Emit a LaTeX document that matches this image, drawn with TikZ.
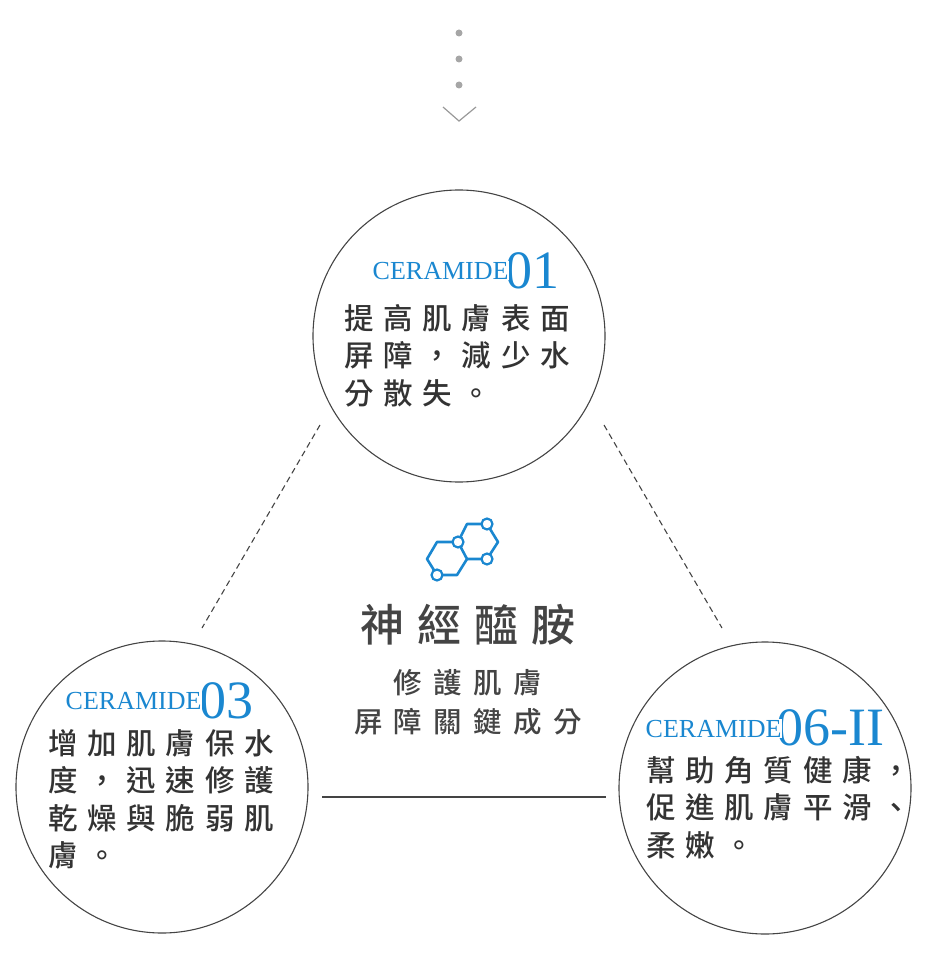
\documentclass[tikz,border=0pt]{standalone}
\usepackage{fontspec}
\setmainfont{Liberation Serif}
\newfontfamily\cjk[LetterSpace=33]{Noto Sans CJK TC Medium}
\newfontfamily\cjks[LetterSpace=40]{Noto Sans CJK TC Medium}
\newfontfamily\cjkt[LetterSpace=30]{Noto Sans CJK TC Medium}
\definecolor{blu}{HTML}{1A87D0}
\definecolor{txt}{HTML}{333333}
\definecolor{ln}{HTML}{444444}
\tikzset{x=1pt,y=-1pt,
 circ/.style={draw=ln,line width=1.1pt,circle,minimum size=292pt,inner sep=0},
 body/.style={anchor=north west,align=left,font=\cjk\fontsize{29.5}{37.5}\selectfont,text=txt,inner sep=0},
 cer/.style={anchor=base west,font=\fontsize{26}{26}\selectfont,text=blu,fill=white,inner sep=0.5pt},
 num/.style={anchor=base west,font=\fontsize{54}{54}\selectfont,text=blu,inner sep=0},
 dot/.style={fill=gray!70,circle,inner sep=0,minimum size=7pt},
 atom/.style={draw=blu,fill=white,line width=2.2pt,circle,inner sep=0,minimum size=11pt},
 bond/.style={draw=blu,line width=2.6pt,line join=round}}
\begin{document}
\begin{tikzpicture}
\useasboundingbox (0,0) rectangle (926,968);
\node[dot] (d1) at (459,33) {};
\node[dot] (d2) at (459,59) {};
\node[dot] (d3) at (459,85) {};
\coordinate (c1) at (443,107); \coordinate (c2) at (459,121); \coordinate (c3) at (476,107);
\draw[gray!80,line width=1.2pt] (c1)--(c2)--(c3);
\node[circ] (top) at (459,336) {};
\node[circ] (lft) at (162,787) {};
\node[circ] (rgt) at (765,788) {};
\coordinate (a1) at (320,425); \coordinate (a2) at (202,628);
\coordinate (b1) at (604,425); \coordinate (b2) at (722,628);
\coordinate (s1) at (322,797); \coordinate (s2) at (606,797);
\draw[ln,line width=1.1pt,dash pattern=on 6pt off 4pt] (a1)--(a2);
\draw[ln,line width=1.1pt,dash pattern=on 6pt off 4pt] (b1)--(b2);
\draw[ln,line width=1.2pt] (s1)--(s2);
% molecule
\coordinate (h1) at (427,559); \coordinate (h2) at (437,542); \coordinate (h3) at (458,542);
\coordinate (h4) at (467,559); \coordinate (h5) at (457,575); \coordinate (h6) at (437,575);
\coordinate (g1) at (467,524); \coordinate (g2) at (487,524); \coordinate (g3) at (498,542);
\coordinate (g4) at (487,559);
\draw[bond] (h1)--(h2)--(h3)--(h4)--(h5)--(h6)--cycle;
\draw[bond] (h3)--(g1)--(g2)--(g3)--(g4)--(h4);
\node[atom] (m1) at (h3) {};
\node[atom] (m2) at (h6) {};
\node[atom] (m3) at (g2) {};
\node[atom] (m4) at (g4) {};
% center text
\node[font=\cjkt\fontsize{44}{44}\selectfont,text=ln] (title) at (468,625) {神經醯胺};
\node[font=\cjks\fontsize{28.5}{28.5}\selectfont,text=ln] (sub1) at (468,683) {修護肌膚};
\node[font=\cjks\fontsize{28.5}{28.5}\selectfont,text=ln] (sub2) at (468,722) {屏障關鍵成分};
% top
\node[num] (n1) at (505,288) {01};
\node[cer] (k1) at (372,279) {CERAMIDE};
\node[body] (t1) at (344,304) {提高肌膚表面\\屏障，減少水\\分散失。};
% left
\node[num] (n2) at (199,718) {03};
\node[cer] (k2) at (65,709) {CERAMIDE};
\node[body] (t2) at (48,729) {增加肌膚保水\\度，迅速修護\\乾燥與脆弱肌\\膚。};
% right
\node[num] (n3) at (776,745) {06-II};
\node[cer] (k3) at (645,737) {CERAMIDE};
\node[body] (t3) at (646,756) {幫助角質健康，\\促進肌膚平滑、\\柔嫩。};
\end{tikzpicture}
\end{document}
